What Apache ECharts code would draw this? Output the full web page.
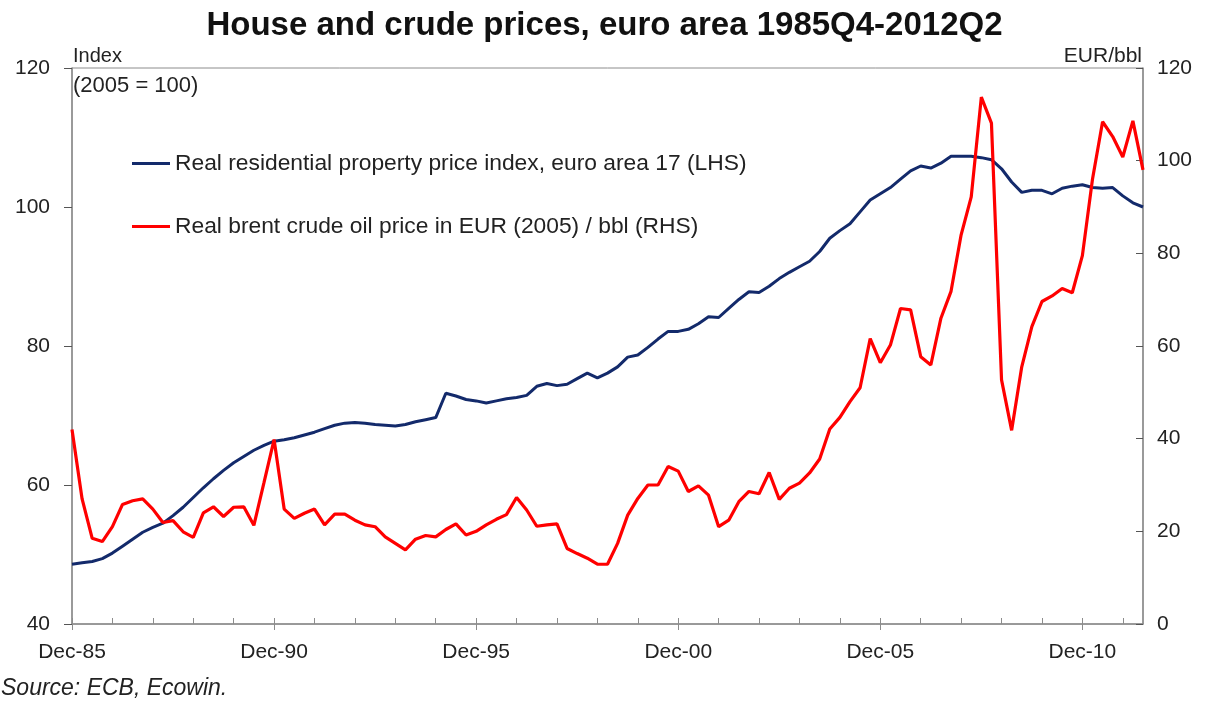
<!DOCTYPE html>
<html>
<head>
<meta charset="utf-8">
<title>House and crude prices</title>
<script src="https://cdn.jsdelivr.net/npm/echarts@6/dist/echarts.min.js"></script>
<style>
    html, body { margin: 0; padding: 0; background: #fff; }
    #chart { width: 1209px; height: 702px; }
</style>
</head>
<body>
<div id="chart"></div>
<script>
// quarters 1985Q4 .. 2012Q2
let quarters = []
for (let y = 1985; y <= 2012; y++) {
    for (let q = 1; q <= 4; q++) {
        if (y == 1985 && q < 4) continue
        if (y == 2012 && q > 2) continue
        quarters.push(y + 'Q' + q)
    }
}

// real residential property price index (LHS, 2005 = 100)
let houseIndex = [
    48.6, 48.8, 49.0, 49.4, 50.2, 51.2, 52.2, 53.2, 53.9, 54.5,
    55.6, 56.8, 58.2, 59.6, 60.9, 62.1, 63.2, 64.1, 65.0, 65.7,
    66.3, 66.5, 66.8, 67.2, 67.6, 68.1, 68.6, 68.9, 69.0, 68.9,
    68.7, 68.6, 68.5, 68.7, 69.1, 69.4, 69.7, 73.2, 72.8, 72.3,
    72.1, 71.8, 72.1, 72.4, 72.6, 72.9, 74.2, 74.6, 74.3, 74.5,
    75.3, 76.1, 75.4, 76.1, 77.0, 78.4, 78.7, 79.8, 81.0, 82.1,
    82.1, 82.4, 83.2, 84.2, 84.1, 85.4, 86.7, 87.8, 87.7, 88.6,
    89.7, 90.6, 91.4, 92.2, 93.6, 95.5, 96.6, 97.6, 99.3, 101.0,
    101.9, 102.8, 104.0, 105.2, 105.9, 105.6, 106.3, 107.3, 107.3, 107.3,
    107.1, 106.8, 105.5, 103.6, 102.1, 102.4, 102.4, 101.9, 102.7, 103.0,
    103.2, 102.8, 102.7, 102.8, 101.6, 100.6, 100.0
]

// real brent crude oil price, EUR (2005) per bbl (RHS)
let oilPrice = [
    42.0, 27.0, 18.5, 17.8, 21.0, 25.8, 26.6, 27.0, 24.8, 21.9,
    22.3, 19.9, 18.7, 24.0, 25.3, 23.2, 25.2, 25.3, 21.3, 30.5,
    39.8, 24.8, 22.8, 23.9, 24.8, 21.4, 23.7, 23.7, 22.4, 21.4,
    21.0, 18.8, 17.4, 16.0, 18.3, 19.1, 18.8, 20.4, 21.6, 19.2,
    20.0, 21.4, 22.6, 23.6, 27.3, 24.6, 21.1, 21.4, 21.6, 16.3,
    15.2, 14.2, 12.9, 12.9, 17.4, 23.5, 27.1, 30.0, 30.0, 34.0,
    33.0, 28.6, 29.8, 27.8, 21.0, 22.4, 26.4, 28.6, 28.1, 32.7,
    26.9, 29.3, 30.4, 32.6, 35.6, 42.1, 44.6, 48.0, 51.0, 61.6,
    56.4, 60.2, 68.1, 67.8, 57.7, 55.9, 66.0, 71.8, 84.0, 92.2,
    113.7, 108.1, 52.7, 41.8, 55.5, 64.2, 69.6, 70.8, 72.4, 71.5,
    79.5, 96.0, 108.4, 105.2, 100.8, 108.6, 98.0
]

let leftTicks = [40, 60, 80, 100, 120]
let rightTicks = [0, 20, 40, 60, 80, 100, 120]

function quarterLabel(v) {
    // label only Dec of 85, 90, 95 ...
    let y = parseInt(v.slice(0, 4))
    if (v.slice(4) == 'Q4' && (y - 1985) % 5 == 0) {
        return 'Dec-' + String(y).slice(2)
    }
    return ''
}

let font = 'Liberation Sans, Arial, sans-serif'
let axisGrey = '#8c8c8c'

var chart = echarts.init(document.getElementById('chart'))
chart.setOption({
    animation: false,
    textStyle: { fontFamily: font },
    title: {
        text: 'House and crude prices, euro area 1985Q4-2012Q2',
        left: 'center',
        top: 4,
        textStyle: { fontSize: 33, fontWeight: 'bold', color: '#111', fontFamily: font }
    },
    legend: {
        orient: 'vertical',
        left: 127,
        top: 147,
        itemGap: 40,
        itemWidth: 38,
        itemHeight: 3,
        icon: 'rect',
        textStyle: { fontSize: 22.8, color: '#222', fontFamily: font },
        data: [
            'Real residential property price index, euro area 17 (LHS)',
            'Real brent crude oil price in EUR (2005) / bbl (RHS)'
        ]
    },
    grid: {
        left: 72,
        right: 66,
        top: 68,
        bottom: 78,
        show: true,
        borderColor: axisGrey,
        borderWidth: 1
    },
    xAxis: [{
        type: 'category',
        data: quarters,
        boundaryGap: false,
        axisLine: { lineStyle: { color: axisGrey, width: 1.5 } },
        axisTick: {
            inside: true,
            length: 6,
            interval: function (i) { return i % 4 == 0 },
            lineStyle: { color: axisGrey }
        },
        axisLabel: {
            interval: 0,
            margin: 18,
            fontSize: 21,
            color: '#222',
            formatter: quarterLabel
        },
        splitLine: { show: false }
    }, {
        // long ticks under the labelled Decembers
        type: 'category',
        data: quarters,
        boundaryGap: false,
        position: 'bottom',
        axisLine: { show: false },
        axisTick: {
            length: 6,
            interval: function (i) { return i % 20 == 0 },
            lineStyle: { color: axisGrey }
        },
        axisLabel: { show: false }
    }],
    yAxis: [{
        type: 'value',
        min: leftTicks[0],
        max: leftTicks[leftTicks.length - 1],
        interval: 20,
        axisLine: { show: true, lineStyle: { color: axisGrey, width: 1.5 } },
        axisTick: { show: true, length: 8, lineStyle: { color: '#555' } },
        axisLabel: { fontSize: 21, color: '#222', margin: 22 },
        splitLine: { show: false }
    }, {
        type: 'value',
        min: rightTicks[0],
        max: rightTicks[rightTicks.length - 1],
        interval: 20,
        position: 'right',
        axisLine: { show: true, lineStyle: { color: axisGrey, width: 1.5 } },
        axisTick: { show: true, inside: true, length: 7, lineStyle: { color: '#555' } },
        axisLabel: { fontSize: 21, color: '#222', margin: 14 },
        splitLine: { show: false }
    }],
    graphic: [
        { type: 'text', left: 73, top: 46, style: { text: 'Index', fontSize: 20, fill: '#222', fontFamily: font } },
        { type: 'text', left: 73, top: 75, style: { text: '(2005 = 100)', fontSize: 22, fill: '#222', fontFamily: font } },
        { type: 'text', right: 67, top: 46, style: { text: 'EUR/bbl', fontSize: 21, fill: '#222', fontFamily: font } },
        { type: 'text', left: 1, top: 677, style: { text: 'Source: ECB, Ecowin.', fontSize: 23, fontStyle: 'italic', fill: '#222', fontFamily: font } }
    ],
    series: [{
        name: 'Real residential property price index, euro area 17 (LHS)',
        type: 'line',
        yAxisIndex: 0,
        data: houseIndex,
        symbol: 'none',
        lineStyle: { color: '#132a6b', width: 3 },
        itemStyle: { color: '#132a6b' }
    }, {
        name: 'Real brent crude oil price in EUR (2005) / bbl (RHS)',
        type: 'line',
        yAxisIndex: 1,
        data: oilPrice,
        symbol: 'none',
        lineStyle: { color: '#ff0000', width: 3.2 },
        itemStyle: { color: '#ff0000' }
    }]
})
</script>
</body>
</html>
